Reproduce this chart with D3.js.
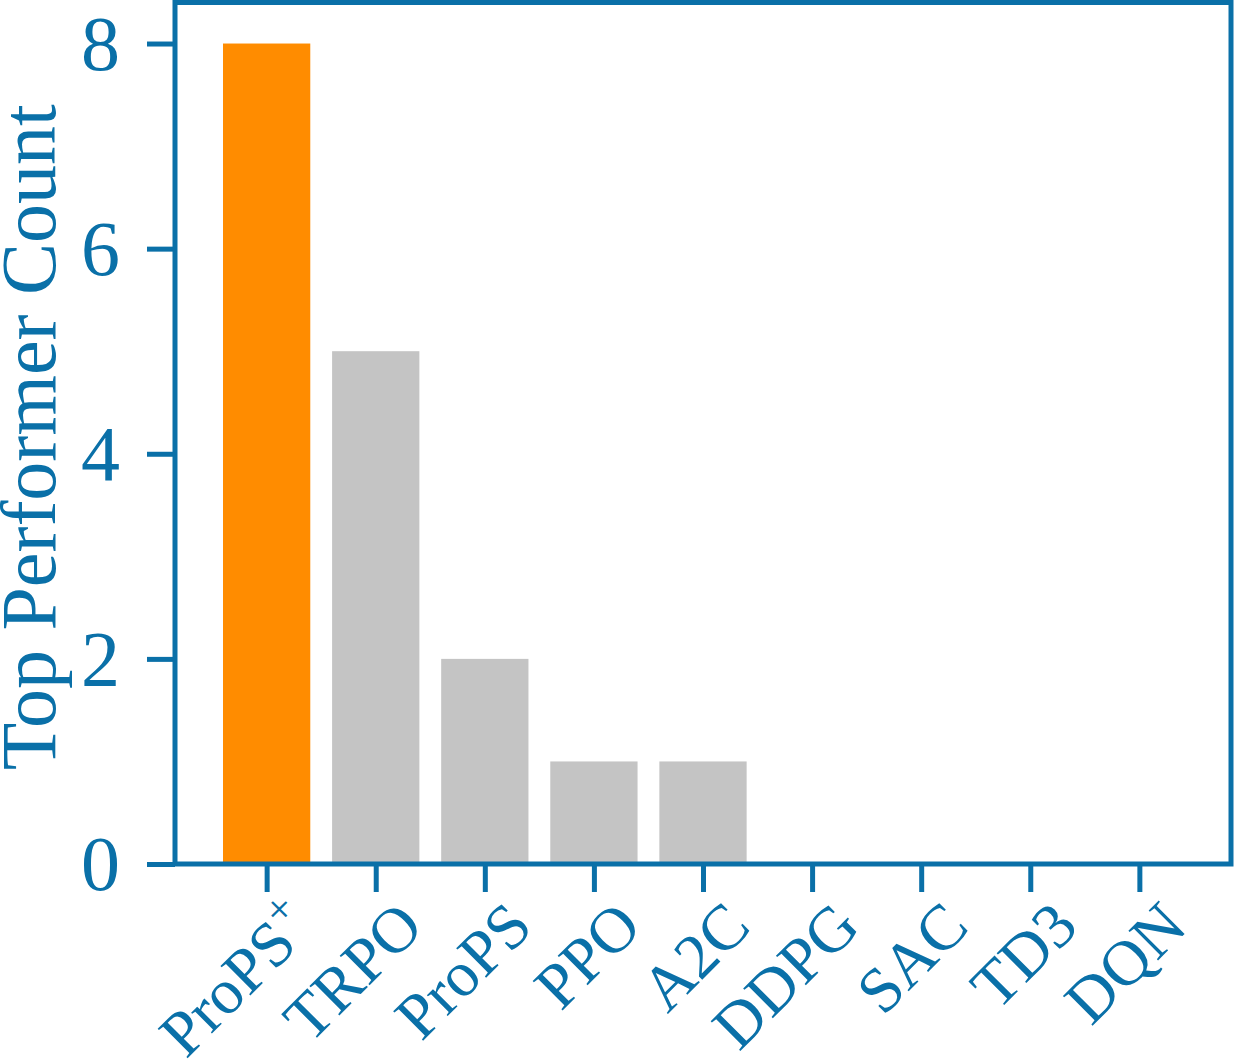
<!DOCTYPE html>
<html>
<head>
<meta charset="utf-8">
<script src="https://cdn.jsdelivr.net/npm/d3@7/dist/d3.min.js"></script>
<style>
  html, body { margin: 0; padding: 0; background: #fff; }
  text { font-family: "Liberation Serif", "Times New Roman", serif; }
</style>
</head>
<body>
<svg id="svg"></svg>
<script>
// data
var categories = ["ProPS^+", "TRPO", "ProPS", "PPO", "A2C", "DDPG", "SAC", "TD3", "DQN"];
var counts = [8, 5, 2, 1, 1, 0, 0, 0, 0];
var yTicks = [0, 2, 4, 6, 8];
var highlight = "ProPS^+";

var width = 1234, height = 1063;
var blue = "#0a70a8";
var plot = {x1: 175, x2: 1231, y1: 2.5, y2: 864};

var svg = d3.select("#svg")
    .attr("width", width)
    .attr("height", height);

// matplotlib style margins: bars of width 0.8, 5% padding
var x = d3.scaleLinear()
    .domain([-0.84, categories.length - 1 + 0.84])
    .range([plot.x1, plot.x2]);
var y = d3.scaleLinear()
    .domain([0, 8.4])
    .range([plot.y2, plot.y1]);

var barW = 0.8;

svg.append("g").selectAll("rect")
    .data(counts)
    .enter()
    .append("rect")
    .attr("x", function(d, i) { return x(i - barW / 2); })
    .attr("width", function(d, i) { return x(i + barW / 2) - x(i - barW / 2); })
    .attr("y", function(d) { return y(d); })
    .attr("height", function(d) { return y(0) - y(d); })
    .attr("fill", function(d, i) {
        return categories[i] === highlight ? "#ff8c00" : "#c4c4c4";
    });

// left axis
var yAxis = d3.axisLeft(y)
    .tickValues(yTicks)
    .tickFormat(d3.format("d"))
    .tickSize(28)
    .tickPadding(27);

var gy = svg.append("g")
    .attr("transform", "translate(" + plot.x1 + ",0)")
    .call(yAxis);
gy.select(".domain").remove();
gy.selectAll(".tick line").attr("stroke", blue).attr("stroke-width", 5);
gy.selectAll(".tick text")
    .attr("fill", blue)
    .attr("font-size", 78)
    .attr("dy", "0.33em");

// bottom axis, labels drawn by hand for the rotation
var xAxis = d3.axisBottom(x)
    .tickValues(d3.range(categories.length))
    .tickFormat("")
    .tickSize(28);

var gx = svg.append("g")
    .attr("transform", "translate(0," + plot.y2 + ")")
    .call(xAxis);
gx.select(".domain").remove();
gx.selectAll(".tick line").attr("stroke", blue).attr("stroke-width", 5);

var labels = svg.append("g").selectAll("text")
    .data(categories)
    .enter()
    .append("text")
    .attr("text-anchor", "end")
    .attr("font-size", 64)
    .attr("fill", blue)
    .attr("transform", function(d, i) {
        return "translate(" + (x(i) + 50) + ",929) rotate(-45)";
    });

labels.each(function(d) {
    var parts = d.split("^");
    var t = d3.select(this);
    t.append("tspan").text(parts[0]);
    if (parts.length > 1) {
        t.append("tspan")
            .attr("font-size", 44)
            .attr("dy", -26)
            .text(parts[1]);
    }
});

// frame
svg.append("rect")
    .attr("x", plot.x1)
    .attr("y", plot.y1)
    .attr("width", plot.x2 - plot.x1)
    .attr("height", plot.y2 - plot.y1)
    .attr("fill", "none")
    .attr("stroke", blue)
    .attr("stroke-width", 5);

// y label
svg.append("text")
    .attr("transform", "translate(55," + ((plot.y1 + plot.y2) / 2 + 4) + ") rotate(-90)")
    .attr("text-anchor", "middle")
    .attr("font-size", 78)
    .attr("fill", blue)
    .text("Top Performer Count");
</script>
</body>
</html>
